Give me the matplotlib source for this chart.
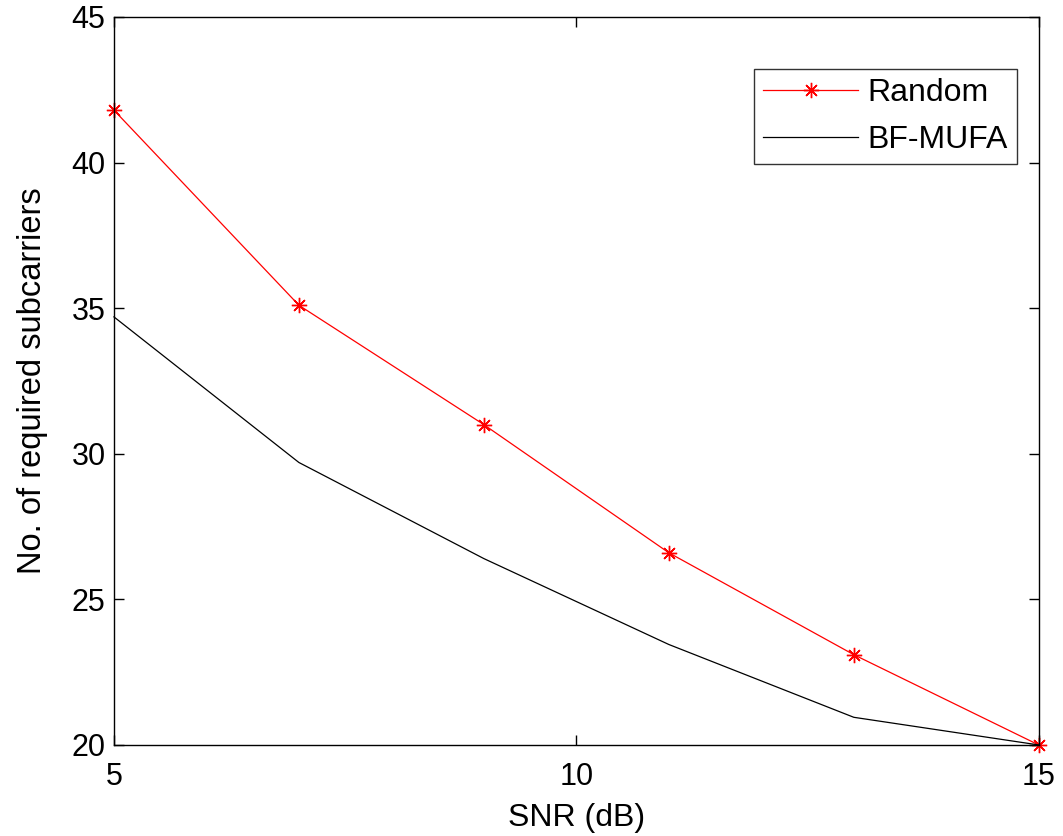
import matplotlib.pyplot as plt

snr = [5, 7, 9, 11, 13, 15]
random_sc = [41.8, 35.1, 31.0, 26.6, 23.1, 20.0]
bfmufa_sc = [34.7, 29.7, 26.4, 23.45, 20.95, 20.0]

plt.rcParams['font.family'] = ['Liberation Sans', 'DejaVu Sans']

fig = plt.figure(figsize=(10.63, 8.36), dpi=100)
ax = fig.add_axes([0.1072, 0.1089, 0.870, 0.8708])

# MATLAB-style '*' marker: 8-armed asterisk
ax.plot(snr, random_sc, color='red', marker=(8, 2, 0), markersize=11, lw=0.9,
        markeredgewidth=1.0, label='Random', clip_on=False)
ax.plot(snr, bfmufa_sc, color='black', lw=0.9, label='BF-MUFA', clip_on=False)

ax.set_xlim(5, 15)
ax.set_ylim(20, 45)
ax.set_xticks([5, 10, 15])
ax.set_yticks([20, 25, 30, 35, 40, 45])
ax.tick_params(direction='in', length=7, width=1, top=True, right=True,
               labelsize=22)
ax.tick_params(axis='x', pad=12.5)
ax.tick_params(axis='y', pad=6)
for s in ax.spines.values():
    s.set_linewidth(1.0)

ax.set_xlabel('SNR (dB)', fontsize=23, labelpad=8)
ax.set_ylabel('No. of required subcarriers', fontsize=23.5, labelpad=17)

leg = ax.legend(loc='upper right', bbox_to_anchor=(0.976, 0.928), fontsize=23,
                fancybox=False, frameon=True, edgecolor='black',
                handlelength=2.95, handletextpad=0.3, borderpad=0.28,
                labelspacing=0.52, borderaxespad=0)
leg.get_frame().set_linewidth(1.0)

fig.savefig('out.png', dpi=100)
